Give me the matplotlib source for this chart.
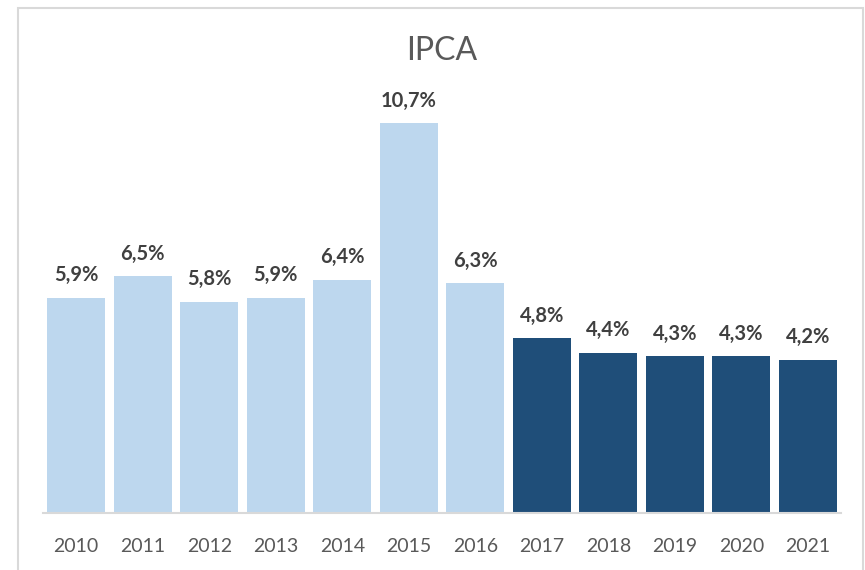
import matplotlib.pyplot as plt
from matplotlib.patches import Rectangle

# Datos del IPCA por año
anos = ["2010", "2011", "2012", "2013", "2014", "2015", "2016",
        "2017", "2018", "2019", "2020", "2021"]
ipca = [5.9, 6.5, 5.8, 5.9, 6.4, 10.7, 6.3, 4.8, 4.4, 4.3, 4.3, 4.2]
colores = ["#BDD7EE"] * 7 + ["#1F4E79"] * 5

plt.rcParams['font.family'] = ['Lato', 'DejaVu Sans']

fig = plt.figure(figsize=(8.65, 5.7), dpi=100)
ax = fig.add_axes([0.0497, 0.1, 0.9226, 0.7674])

x = range(len(anos))
barras = ax.bar(x, ipca, width=0.87, color=colores)

# Etiquetas sobre las barras
for i, v in enumerate(ipca):
    ax.annotate(f"{v:.1f}%".replace(".", ","), (i, v), xytext=(0, 9),
                textcoords="offset points", ha='center', va='bottom',
                fontsize=14.5, fontweight='bold', color='#404040')

ax.set_xlim(-0.5, len(anos) - 0.5)
ax.set_ylim(0, 12)
ax.set_xticks(list(x))
ax.set_xticklabels(anos, fontsize=14, color='#595959')
ax.tick_params(axis='x', length=0, pad=18)
ax.set_yticks([])
for lado in ['top', 'right', 'left']:
    ax.spines[lado].set_visible(False)
ax.spines['bottom'].set_color('#D9D9D9')
ax.spines['bottom'].set_linewidth(1.5)

fig.text(0.511, 0.91, "IPCA", ha='center', va='center', fontsize=23, color='#595959')

# Borde del gráfico
borde = Rectangle((18 / 865, -0.05), 845 / 865, 1.0 - 8 / 570 + 0.05,
                  transform=fig.transFigure, fill=False, edgecolor='#D9D9D9',
                  linewidth=1.5)
fig.patches.append(borde)

plt.savefig("out.png", dpi=100)
plt.close()
